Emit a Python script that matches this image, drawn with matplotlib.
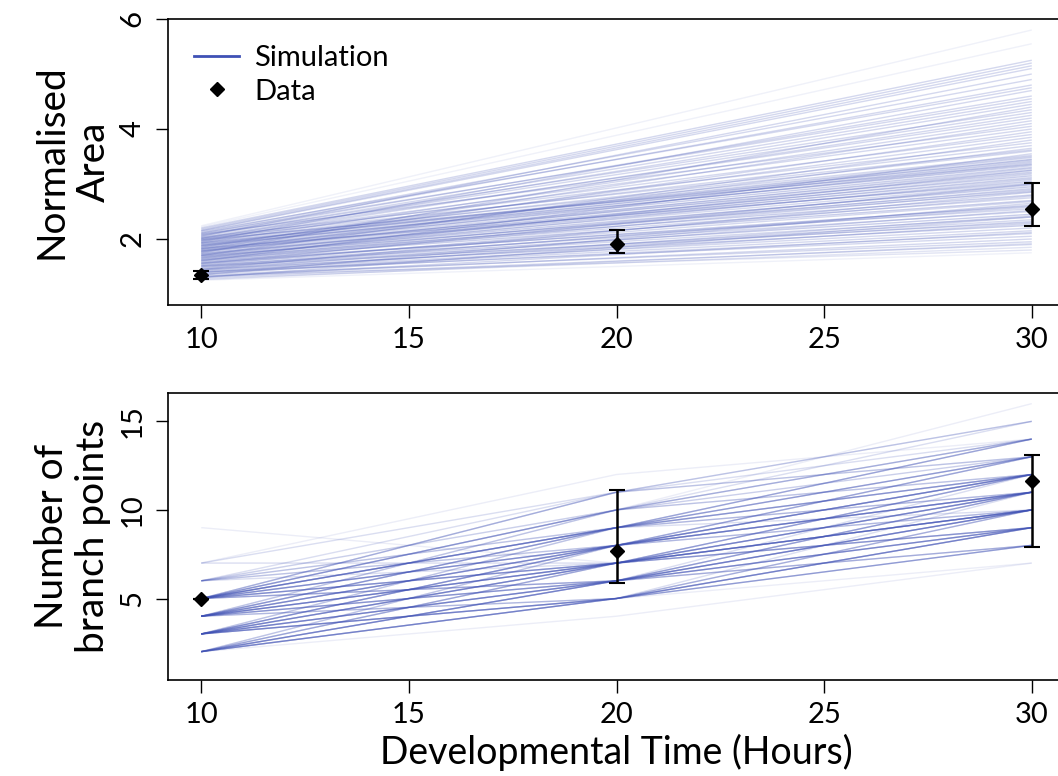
import matplotlib
matplotlib.use("Agg")
import matplotlib.pyplot as plt
from matplotlib.lines import Line2D
import numpy as np

plt.rcParams['font.family'] = ['Lato', 'DejaVu Sans']

# ---- top panel: normalised area ----
sim_x_top = [10, 30]
top_start = [1.25, 1.28, 1.30, 1.32, 1.35, 1.38, 1.40, 1.42, 1.45, 1.47,
             1.50, 1.52, 1.55, 1.57, 1.60, 1.62, 1.64, 1.66, 1.68, 1.70,
             1.72, 1.74, 1.76, 1.78, 1.80, 1.82, 1.84, 1.86, 1.88, 1.90,
             1.92, 1.60, 1.94, 1.96, 1.70, 1.98, 2.00, 1.85, 2.02, 2.04,
             1.75, 2.06, 2.08, 1.95, 2.10, 2.12, 2.05, 2.15, 2.18, 2.20,
             2.22, 2.24, 1.35, 1.45, 1.30, 1.55, 1.65, 1.40, 1.50, 1.33,
             1.36, 1.44, 1.48, 1.53, 1.58, 1.63, 1.67, 1.71, 1.77, 1.81,
             1.87, 1.91, 1.97, 2.01, 1.43, 1.56, 1.61, 1.73, 1.79, 1.83,
             1.89, 1.93, 2.03, 2.09, 1.26, 1.31, 1.39, 1.51, 1.69, 1.99,
             1.78, 1.88, 1.93, 2.07, 2.11, 1.82, 2.14, 1.98, 2.16, 2.01]
top_end = [1.75, 1.85, 1.90, 2.00, 1.95, 2.10, 2.05, 2.20, 2.25, 2.35,
           2.30, 2.45, 2.50, 2.60, 2.55, 2.70, 2.75, 2.80, 2.90, 2.95,
           3.00, 3.05, 3.10, 3.15, 3.20, 3.25, 3.30, 3.35, 3.40, 3.45,
           3.50, 3.55, 3.60, 3.70, 3.80, 3.90, 4.00, 4.10, 4.20, 4.30,
           4.40, 4.50, 4.60, 4.70, 4.80, 4.90, 5.00, 5.10, 5.20, 5.25,
           5.55, 5.80, 2.65, 2.85, 2.40, 3.00, 3.25, 2.15, 2.40, 1.80,
           2.28, 2.52, 2.62, 2.78, 2.88, 2.98, 3.08, 3.18, 3.28, 3.38,
           3.42, 3.48, 3.52, 3.62, 2.32, 2.68, 2.92, 3.12, 3.22, 3.02,
           3.33, 3.44, 3.75, 4.05, 1.92, 2.12, 2.42, 2.58, 2.86, 3.36,
           3.65, 3.85, 4.15, 4.35, 4.55, 3.95, 4.75, 4.25, 5.15, 4.45]
top_count = [1, 2, 3, 3, 3, 3, 3, 3, 4, 3,
             3, 4, 3, 4, 3, 4, 3, 4, 3, 4,
             3, 4, 3, 4, 3, 3, 4, 3, 3, 3,
             3, 3, 3, 3, 3, 3, 3, 3, 3, 3,
             3, 3, 3, 3, 3, 3, 3, 3, 3, 3,
             1, 1, 3, 3, 3, 3, 3, 3, 3, 2,
             3, 3, 3, 3, 3, 3, 3, 3, 3, 3,
             3, 3, 3, 3, 3, 3, 3, 3, 3, 3,
             3, 3, 3, 3, 2, 3, 3, 3, 3, 3,
             3, 3, 3, 3, 3, 3, 3, 3, 3, 3]

data_x = [10, 20, 30]
area_mean = [1.35, 1.91, 2.55]
area_lo = [1.28, 1.75, 2.24]
area_hi = [1.42, 2.16, 3.02]

# ---- bottom panel: branch points ----
sim_x_bot = [10, 20, 30]
bot_paths = [(2, 4, 7), (2, 5, 8), (2, 5, 9), (2, 6, 9), (2, 6, 10), (2, 7, 10),
             (2, 7, 11), (2, 8, 11), (3, 5, 8), (3, 5, 10), (3, 6, 9), (3, 6, 11),
             (3, 7, 10), (3, 7, 12), (3, 8, 11), (3, 8, 13), (3, 9, 12), (4, 5, 9),
             (4, 6, 10), (4, 6, 12), (4, 7, 11), (4, 7, 9), (4, 8, 12), (4, 8, 10),
             (4, 9, 13), (4, 9, 11), (4, 10, 14), (5, 6, 8), (5, 6, 11), (5, 7, 10),
             (5, 7, 12), (5, 8, 11), (5, 8, 13), (5, 9, 12), (5, 9, 14), (5, 10, 13),
             (5, 10, 15), (5, 11, 14), (5, 11, 15), (6, 8, 12), (6, 10, 14), (6, 11, 13),
             (7, 7, 10), (7, 11, 15), (7, 12, 14), (9, 7, 9), (6, 10, 16), (4, 5, 7),
             (3, 9, 14), (2, 8, 12), (5, 9, 10), (4, 10, 12), (2, 5, 10), (2, 6, 8),
             (3, 6, 10), (3, 7, 9), (3, 8, 12), (4, 6, 9), (4, 7, 12), (4, 8, 11),
             (5, 6, 10), (5, 7, 11), (5, 8, 12), (5, 9, 13), (5, 10, 14), (6, 9, 12),
             (6, 8, 11), (6, 7, 10), (2, 7, 9), (3, 5, 9), (4, 9, 12), (5, 11, 13),
             (2, 6, 11), (3, 7, 11), (4, 8, 13), (5, 9, 11), (3, 6, 8), (4, 7, 10),
             (2, 5, 9), (3, 8, 10), (4, 9, 14), (5, 10, 12), (6, 9, 13), (3, 5, 11)]
bot_count = [1, 4, 3, 4, 3, 3,
             2, 2, 4, 3, 4, 3,
             4, 2, 3, 2, 2, 4,
             4, 2, 4, 3, 3, 3,
             3, 2, 2, 1, 3, 4,
             3, 4, 3, 3, 3, 3,
             2, 2, 2, 2, 2, 2,
             2, 2, 1, 1, 1, 1,
             2, 2, 2, 2, 3, 3,
             3, 3, 3, 3, 3, 3,
             3, 3, 3, 3, 2, 2,
             2, 2, 2, 3, 2, 2,
             2, 3, 2, 3, 2, 3,
             2, 2, 2, 2, 2, 2]

branch_mean = [5.0, 7.66, 11.66]
branch_lo = [5.0, 5.9, 7.9]
branch_hi = [5.0, 11.1, 13.1]

line_col = '#3F51B5'
W, H = 1058, 776
fig = plt.figure(figsize=(W / 100, H / 100), dpi=100)
ax1 = fig.add_axes([168 / W, 1 - 305 / H, (1065 - 168) / W, (305 - 19) / H])
ax2 = fig.add_axes([168 / W, 1 - 680 / H, (1065 - 168) / W, (680 - 393) / H])

for s, e, c in zip(top_start, top_end, top_count):
    ax1.plot(sim_x_top, [s, e], color=line_col, lw=1.0,
             alpha=1 - (1 - 0.08) ** c, solid_capstyle='butt')
for p, c in zip(bot_paths, bot_count):
    ax2.plot(sim_x_bot, p, color=line_col, lw=1.0,
             alpha=1 - (1 - 0.10) ** c, solid_capstyle='butt')


def draw_data(ax, m, lo, hi):
    m = np.array(m)
    yerr = [m - np.array(lo), np.array(hi) - m]
    ax.errorbar(data_x, m, yerr=yerr, fmt='D', color='black', ms=7,
                ecolor='black', elinewidth=1.8, capsize=6, capthick=1.5, zorder=5)


draw_data(ax1, area_mean, area_lo, area_hi)
draw_data(ax2, branch_mean, branch_lo, branch_hi)

ax1.set_xlim(9.2, 30.8)
ax1.set_ylim(0.8, 6.0)
ax1.set_yticks([2, 4, 6])
ax2.set_xlim(9.2, 30.8)
ax2.set_ylim(0.4, 16.6)
ax2.set_yticks([5, 10, 15])

for ax in (ax1, ax2):
    ax.set_xticks([10, 15, 20, 25, 30])
    ax.tick_params(direction='out', length=9, width=1.0, labelsize=21, pad=7)
    for lab in ax.get_yticklabels():
        lab.set_rotation(90)
        lab.set_va('center')
    for sp in ax.spines.values():
        sp.set_linewidth(1.2)

ax1.set_ylabel('Normalised\nArea', fontsize=28, labelpad=6, linespacing=1.2)
ax2.set_ylabel('Number of\nbranch points', fontsize=28, labelpad=6, linespacing=1.2)
ax2.set_xlabel('Developmental Time (Hours)', fontsize=27, labelpad=4)

handles = [Line2D([], [], color=line_col, lw=2),
           Line2D([], [], color='black', marker='D', ls='none', ms=7)]
ax1.legend(handles, ['Simulation', 'Data'], loc='upper left', frameon=False,
           fontsize=21, handlelength=1.55, handletextpad=0.5,
           borderaxespad=0.5, labelspacing=0.25, borderpad=0.4)

fig.savefig('out.png', dpi=100)
